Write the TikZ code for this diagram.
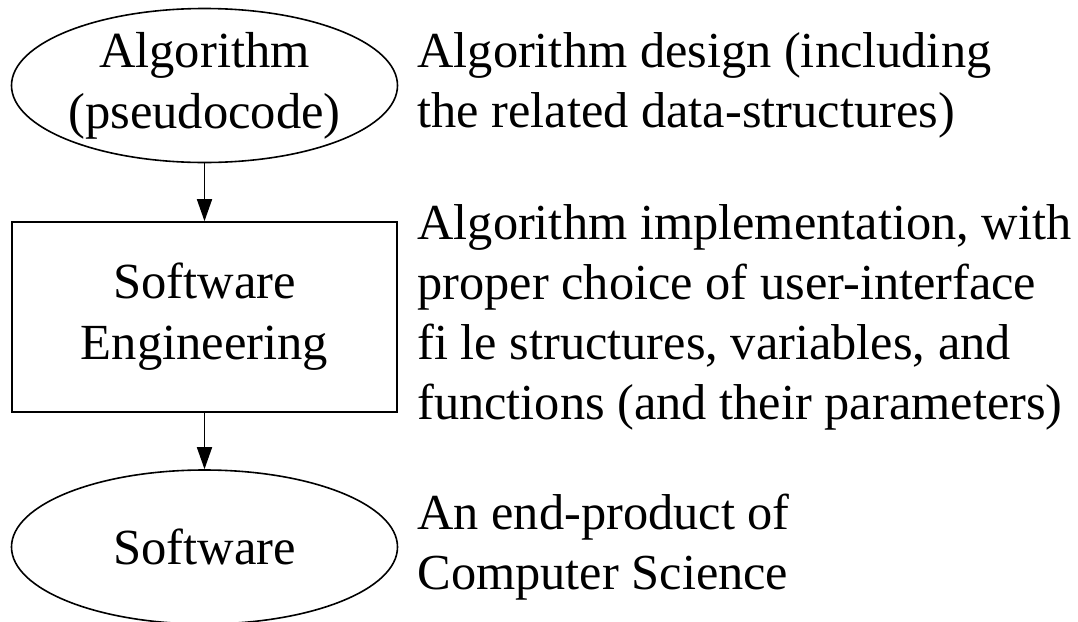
\documentclass[tikz,border=0pt]{standalone}
\usepackage{fontspec}
\setmainfont{Liberation Serif}
\usetikzlibrary{shapes.geometric,arrows.meta}

\begin{document}
\begin{tikzpicture}[
    x=0.5pt, y=-0.5pt,
    terminal/.style={
        draw,
        ellipse,
        line width=0.8pt,
        inner xsep=-30pt,
        inner ysep=0pt,
        minimum width=193pt,
        minimum height=77pt,
        align=center,
        font=\fontsize{25.3}{30.5}\selectfont
    },
    process/.style={
        draw,
        rectangle,
        line width=0.8pt,
        minimum width=192.5pt,
        minimum height=95pt,
        align=center,
        font=\fontsize{25.3}{30.5}\selectfont
    },
    note/.style={
        anchor=west,
        inner sep=0pt,
        align=left,
        font=\fontsize{25.2}{30}\selectfont
    },
    flow/.style={draw, line width=0.8pt, -{Triangle[length=11pt,width=7.5pt]}}
]
    \useasboundingbox (0,0) rectangle (1078,622);

    \node[terminal] (alg) at (204.5,85.5) {Algorithm\\(pseudocode)};
    \node[process] (eng) at (204.5,317) {Software\\Engineering};
    \node[terminal] (soft) at (204.5,547) {Software};

    \node[note] (algnote) at (417,85.5)
        {Algorithm design (including\\the related data-structures)};
    \node[note] (engnote) at (417,317)
        {Algorithm implementation, with\\proper choice of user-interface\\fi le structures, variables, and\\functions (and their parameters)};
    \node[note] (softnote) at (417,547)
        {An end-product of\\Computer Science};

    \draw[flow] (alg) -- (eng);
    \draw[flow] (eng) -- (soft);
\end{tikzpicture}
\end{document}
